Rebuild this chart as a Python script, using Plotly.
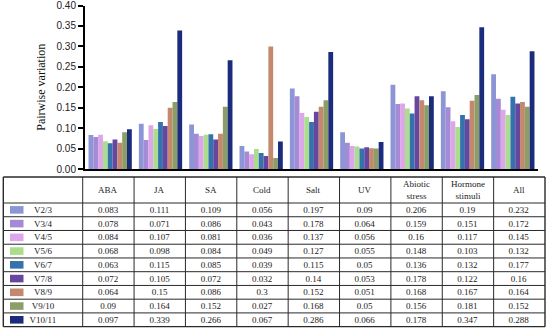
import plotly.graph_objects as go

categories = ["ABA", "JA", "SA", "Cold", "Salt", "UV", "Abiotic stress", "Hormone stimuli", "All"]
header_labels = ["ABA", "JA", "SA", "Cold", "Salt", "UV", "Abiotic<br>stress", "Hormone<br>stimuli", "All"]
series_names = ["V2/3", "V3/4", "V4/5", "V5/6", "V6/7", "V7/8", "V8/9", "V9/10", "V10/11"]

v2_3 = [0.083, 0.111, 0.109, 0.056, 0.197, 0.09, 0.206, 0.19, 0.232]
v3_4 = [0.078, 0.071, 0.086, 0.043, 0.178, 0.064, 0.159, 0.151, 0.172]
v4_5 = [0.084, 0.107, 0.081, 0.036, 0.137, 0.056, 0.16, 0.117, 0.145]
v5_6 = [0.068, 0.098, 0.084, 0.049, 0.127, 0.055, 0.148, 0.103, 0.132]
v6_7 = [0.063, 0.115, 0.085, 0.039, 0.115, 0.05, 0.136, 0.132, 0.177]
v7_8 = [0.072, 0.105, 0.072, 0.032, 0.14, 0.053, 0.178, 0.122, 0.16]
v8_9 = [0.064, 0.15, 0.086, 0.3, 0.152, 0.051, 0.168, 0.167, 0.164]
v9_10 = [0.09, 0.164, 0.152, 0.027, 0.168, 0.05, 0.156, 0.181, 0.152]
v10_11 = [0.097, 0.339, 0.266, 0.067, 0.286, 0.066, 0.178, 0.347, 0.288]

series_values = [v2_3, v3_4, v4_5, v5_6, v6_7, v7_8, v8_9, v9_10, v10_11]
colors = ["#8c96d6", "#a58ad6", "#dda6ea", "#acdc8e", "#3472ac",
          "#66469e", "#c4886e", "#8c9e68", "#1c2c7c"]

W, H = 550, 330
SERIF = "Liberation Serif, Times New Roman, serif"
fig = go.Figure()

for name, vals, col in zip(series_names, series_values, colors):
    fig.add_trace(go.Bar(x=categories, y=vals, name=name, marker=dict(color=col, line=dict(width=0)),
                         showlegend=False, xaxis="x", yaxis="y"))

# table geometry (pixels)
TX0, TX1 = 3.3, 545.0
TY0 = 177.0
HDR_H = 26.0
ROW_H = 13.74
COL0_W = 79.4
NCOL = len(categories)
COL_W = (TX1 - TX0 - COL0_W) / NCOL
TEXT_SHIFT = 4.75   # plotly puts cell text 8px + 0.75em below the row top

cell_cols = [series_names] + [[str(s[i]) for s in series_values] for i in range(NCOL)]
fig.add_trace(go.Table(
    domain=dict(x=[TX0 / W, TX1 / W], y=[0.0, 1 - TY0 / H]),
    columnwidth=[COL0_W] + [COL_W] * NCOL,
    header=dict(values=[""] * (NCOL + 1), align="center", height=HDR_H - TEXT_SHIFT,
                fill_color="rgba(0,0,0,0)", line=dict(color="rgba(0,0,0,0)", width=0),
                font=dict(family=SERIF, size=9, color="#222")),
    cells=dict(values=cell_cols, align="center", height=ROW_H,
               fill_color="rgba(0,0,0,0)", line=dict(color="rgba(0,0,0,0)", width=0),
               font=dict(family=SERIF, size=9, color="#222")),
))

def px(x):
    return x / W

def py(y):
    return 1 - y / H

shapes = []
LC = "#2a2a2a"
TY1 = TY0 + HDR_H + ROW_H * len(series_names)
# horizontal grid lines
ys = [TY0, TY0 + HDR_H] + [TY0 + HDR_H + ROW_H * k for k in range(1, len(series_names) + 1)]
for k, y in enumerate(ys):
    w = 1.4 if k in (0, len(ys) - 1) else 1.0
    shapes.append(dict(type="line", xref="paper", yref="paper", x0=px(TX0), x1=px(TX1),
                       y0=py(y), y1=py(y), line=dict(color=LC, width=w), layer="above"))
# vertical grid lines
xs = [TX0, TX0 + COL0_W] + [TX0 + COL0_W + COL_W * k for k in range(1, NCOL + 1)]
for k, x in enumerate(xs):
    w = 1.4 if k in (0, len(xs) - 1) else 1.0
    shapes.append(dict(type="line", xref="paper", yref="paper", x0=px(x), x1=px(x),
                       y0=py(TY0), y1=py(TY1), line=dict(color=LC, width=w), layer="above"))

# legend swatches inside table first column
row_top = TY0 + HDR_H
for i, col in enumerate(colors):
    cy = row_top + ROW_H * i + ROW_H / 2
    shapes.append(dict(type="rect", xref="paper", yref="paper",
                       x0=px(10), x1=px(23.5), y0=py(cy + 3.8), y1=py(cy - 3.8),
                       fillcolor=col, line=dict(width=0), layer="above"))

# header labels as annotations centred in header cells
annotations = []
for i, lab in enumerate(header_labels):
    cx = TX0 + COL0_W + COL_W * i + COL_W / 2
    cy = TY0 + HDR_H / 2
    annotations.append(dict(text=lab, x=px(cx), y=py(cy), xref="paper", yref="paper",
                            xanchor="center", yanchor="middle", showarrow=False, align="center",
                            font=dict(family=SERIF, size=9, color="#222")))

fig.update_layout(
    width=W, height=H,
    margin=dict(l=0, r=0, t=0, b=0),
    paper_bgcolor="white", plot_bgcolor="white",
    barmode="group", bargap=0.14, bargroupgap=0,
    shapes=shapes, annotations=annotations,
    xaxis=dict(domain=[px(85), px(538)], anchor="y", showline=True, linecolor="black", linewidth=2,
               showticklabels=False, ticks="", showgrid=False, zeroline=False, automargin=False),
    yaxis=dict(domain=[py(169), py(5.5)], anchor="x", range=[0, 0.40], dtick=0.05,
               tickformat=".2f", showline=True, linecolor="black", linewidth=2,
               ticks="outside", ticklen=5, tickwidth=2, tickcolor="black",
               showgrid=False, zeroline=False, automargin=False, ticklabeloverflow="allow",
               tickfont=dict(family="Liberation Sans, Arial, sans-serif", size=10, color="#222"),
               title=dict(text="Pairwise variation", standoff=8,
                          font=dict(family=SERIF, size=12, color="#111"))),
)

fig.write_html("out.html", config={"displayModeBar": False},
               post_script="document.body.style.margin='0';document.body.style.overflow='hidden';")
